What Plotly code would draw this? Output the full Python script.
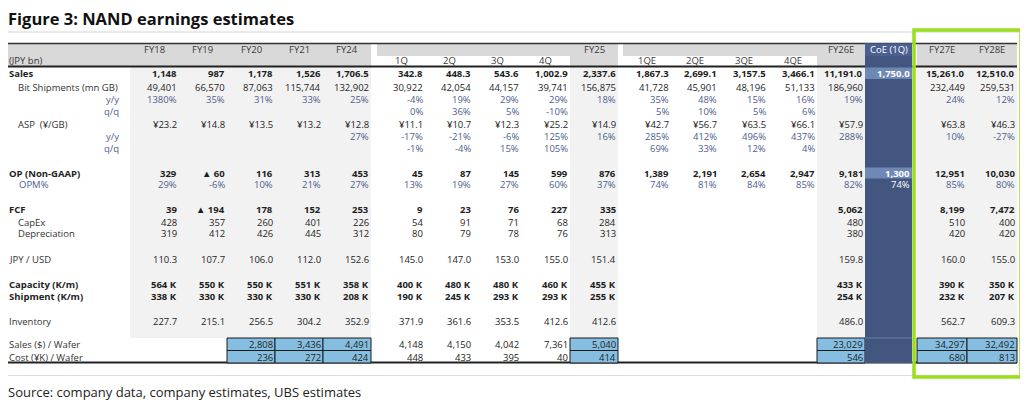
import plotly.graph_objects as go

TITLE = "Figure 3: NAND earnings estimates"
SOURCE = "Source: company data, company estimates, UBS estimates"
UNIT = "(JPY bn)"

# column headers (top header row / second header row)
HEAD_TOP = ["FY18", "FY19", "FY20", "FY21", "FY24",
            "", "", "", "", "FY25",
            "", "", "", "", "FY26E",
            "CoE (1Q)", "FY27E", "FY28E"]
HEAD_SUB = ["", "", "", "", "",
            "1Q", "2Q", "3Q", "4Q", "",
            "1QE", "2QE", "3QE", "4QE", "",
            "", "", ""]

ROW_LABELS = ["Sales", "Bit Shipments (mn GB)", "y/y", "q/q", "ASP  (¥/GB)", "y/y", "q/q",
              "OP (Non-GAAP)", "OPM%", "FCF", "CapEx", "Depreciation", "JPY / USD",
              "Capacity (K/m)", "Shipment (K/m)", "Inventory",
              "Sales ($) / Wafer", "Cost (¥K) / Wafer"]

SALES = ["1,148", "987", "1,178", "1,526", "1,706.5", "342.8", "448.3", "543.6", "1,002.9", "2,337.6",
         "1,867.3", "2,699.1", "3,157.5", "3,466.1", "11,191.0", "1,750.0", "15,261.0", "12,510.0"]
BIT_SHIPMENTS = ["49,401", "66,570", "87,063", "115,744", "132,902", "30,922", "42,054", "44,157", "39,741",
                 "156,875", "41,728", "45,901", "48,196", "51,133", "186,960", "", "232,449", "259,531"]
BIT_YY = ["1380%", "35%", "31%", "33%", "25%", "-4%", "19%", "29%", "29%", "18%",
          "35%", "48%", "15%", "16%", "19%", "", "24%", "12%"]
BIT_QQ = ["", "", "", "", "", "0%", "36%", "5%", "-10%", "",
          "5%", "10%", "5%", "6%", "", "", "", ""]
ASP = ["¥23.2", "¥14.8", "¥13.5", "¥13.2", "¥12.8", "¥11.1", "¥10.7", "¥12.3", "¥25.2", "¥14.9",
       "¥42.7", "¥56.7", "¥63.5", "¥66.1", "¥57.9", "", "¥63.8", "¥46.3"]
ASP_YY = ["", "", "", "", "27%", "-17%", "-21%", "-6%", "125%", "16%",
          "285%", "412%", "496%", "437%", "288%", "", "10%", "-27%"]
ASP_QQ = ["", "", "", "", "", "-1%", "-4%", "15%", "105%", "",
          "69%", "33%", "12%", "4%", "", "", "", ""]
OP = ["329", "▲ 60", "116", "313", "453", "45", "87", "145", "599", "876",
      "1,389", "2,191", "2,654", "2,947", "9,181", "1,300", "12,951", "10,030"]
OPM = ["29%", "-6%", "10%", "21%", "27%", "13%", "19%", "27%", "60%", "37%",
       "74%", "81%", "84%", "85%", "82%", "74%", "85%", "80%"]
FCF = ["39", "▲ 194", "178", "152", "253", "9", "23", "76", "227", "335",
       "", "", "", "", "5,062", "", "8,199", "7,472"]
CAPEX = ["428", "357", "260", "401", "226", "54", "91", "71", "68", "284",
         "", "", "", "", "480", "", "510", "400"]
DEPRECIATION = ["319", "412", "426", "445", "312", "80", "79", "78", "76", "313",
                "", "", "", "", "380", "", "420", "420"]
JPY_USD = ["110.3", "107.7", "106.0", "112.0", "152.6", "145.0", "147.0", "153.0", "155.0", "151.4",
           "", "", "", "", "159.8", "", "160.0", "155.0"]
CAPACITY = ["564 K", "550 K", "550 K", "551 K", "358 K", "400 K", "480 K", "480 K", "460 K", "455 K",
            "", "", "", "", "433 K", "", "390 K", "350 K"]
SHIPMENT = ["338 K", "330 K", "330 K", "330 K", "208 K", "190 K", "245 K", "293 K", "293 K", "255 K",
            "", "", "", "", "254 K", "", "232 K", "207 K"]
INVENTORY = ["227.7", "215.1", "256.5", "304.2", "352.9", "371.9", "361.6", "353.5", "412.6", "412.6",
             "", "", "", "", "486.0", "", "562.7", "609.3"]
SALES_PER_WAFER = ["", "", "2,808", "3,436", "4,491", "4,148", "4,150", "4,042", "7,361", "5,040",
                   "", "", "", "", "23,029", "", "34,297", "32,492"]
COST_PER_WAFER = ["", "", "236", "272", "424", "448", "433", "395", "40", "414",
                  "", "", "", "", "546", "", "680", "813"]

ROWS = [SALES, BIT_SHIPMENTS, BIT_YY, BIT_QQ, ASP, ASP_YY, ASP_QQ, OP, OPM, FCF, CAPEX,
        DEPRECIATION, JPY_USD, CAPACITY, SHIPMENT, INVENTORY, SALES_PER_WAFER, COST_PER_WAFER]

# ---- layout / style (page pixels) ----
W, H = 1028, 404
PAGE_MARGIN = 8  # browser default body margin, so axes map straight to page pixels
FONT = "Open Sans"
TXT = "#1e1e1e"
MUTED = "#4d5d8c"
HDR_GRAY = "#d9d9d9"
BODY_GRAY = "#f2f2f2"
CELL_BLUE = "#86bee1"
COE_BLUE = "#435680"
COE_HEAD = "#4a6090"
COE_HI = "#7088b5"
GREEN = "#9ade1e"

COL_L = [130, 178.5, 227, 275, 323, 377, 425, 473, 521, 570, 623, 671, 719, 768, 817, 865, 917, 967]
COL_R = [178.5, 227, 275, 323, 371, 425, 473, 521, 570, 618, 671, 719, 768, 817, 865, 912, 967, 1017]
ROW_Y = [73, 87, 99, 111, 124, 136, 148, 173, 184, 209, 222, 233, 259, 284, 296, 321, 344, 357]
BOLD_ROWS = {0, 7, 9, 13, 14}
MUTED_ROWS = {2, 3, 5, 6, 8}
INDENT_ROWS = {1, 4, 10, 11}
BLUE_COLS = [2, 3, 4, 9, 14, 16, 17]
COE = 15

fig = go.Figure()
shapes = []
ann = []


def rect(x0, y0, x1, y1, fill, line_color=None, lw=0):
    shapes.append(dict(type="rect", xref="x", yref="y", x0=x0, y0=y0, x1=x1, y1=y1,
                       fillcolor=fill, line=dict(color=line_color or fill, width=lw), layer="below"))


def hline(x0, x1, y, color, lw):
    shapes.append(dict(type="line", xref="x", yref="y", x0=x0, x1=x1, y0=y, y1=y,
                       line=dict(color=color, width=lw), layer="below"))


def text(x, y, s, anchor="right", size=9.5, color=TXT, bold=False):
    if bold:
        s = "<b>" + s + "</b>"
    ann.append(dict(x=x, y=y, xref="x", yref="y", text=s, showarrow=False, xanchor=anchor,
                    yanchor="middle", borderpad=0, borderwidth=0,
                    font=dict(family=FONT, size=size, color=color)))


# background fills
rect(8, 43.5, 371, 66, HDR_GRAY)
rect(377, 43.5, 618, 56, HDR_GRAY)
rect(570, 56, 618, 66, HDR_GRAY)
rect(623, 43.5, 865, 56, HDR_GRAY)
rect(817, 56, 865, 66, HDR_GRAY)
rect(917, 43.5, 1017, 66, HDR_GRAY)
rect(130, 66, 371, 338, BODY_GRAY)
rect(570, 66, 618, 338, BODY_GRAY)
rect(817, 66, 865, 338, BODY_GRAY)
rect(917, 66, 1017, 338, BODY_GRAY)

# separators and rules
hline(8, 1020, 32, "#d4d4d4", 1)
hline(8, 1020, 375.5, "#dcdcdc", 1.2)
hline(8, 1017, 43.5, "#333333", 1.5)
hline(8, 1017, 66.5, "#222222", 2)
hline(8, 1017, 362.5, "#222222", 1.8)

# blue wafer cells
for c in BLUE_COLS:
    for y0, y1 in [(338, 350.5), (350.5, 363)]:
        rect(COL_L[c], y0, COL_R[c], y1, CELL_BLUE, "#1a1a1a", 1)

# CoE column
rect(COL_L[COE], 43.5, COL_R[COE], 363, COE_BLUE)
rect(COL_L[COE], 43.5, COL_R[COE], 56, COE_HEAD)
rect(COL_L[COE], 67.5, COL_R[COE], 79, COE_HI)
rect(COL_L[COE], 167.5, COL_R[COE], 178.5, COE_HI)
hline(COL_L[COE], COL_R[COE], 338, "#6a7ea8", 1)

# highlight box
shapes.append(dict(type="rect", xref="x", yref="y", x0=914, y0=30, x1=1021, y1=377,
                   line=dict(color=GREEN, width=3.5), fillcolor="rgba(0,0,0,0)", layer="above"))

# title, unit, source
text(8, 18.5, TITLE, anchor="left", size=16.5, color="#111111", bold=True)
text(9, 60, UNIT, anchor="left", color="#333333")
text(8, 392, SOURCE, anchor="left", size=13, color="#222222")

# header labels
for i in range(len(HEAD_TOP)):
    mid = (COL_L[i] + COL_R[i]) / 2
    if HEAD_TOP[i]:
        text(mid, 49, HEAD_TOP[i], anchor="center",
             color="white" if i == COE else "#3a3a3a")
    if HEAD_SUB[i]:
        text(mid, 60, HEAD_SUB[i], anchor="center", color="#3a3a3a")

# row labels
for r, lab in enumerate(ROW_LABELS):
    if r in (2, 3, 5, 6):
        text(119, ROW_Y[r], lab, anchor="right", color=MUTED)
    elif r == 8:
        text(19, ROW_Y[r], lab, anchor="left", color=MUTED)
    elif r in INDENT_ROWS:
        text(18, ROW_Y[r], lab, anchor="left", color="#333333")
    else:
        text(9, ROW_Y[r], lab, anchor="left", color=TXT if r in BOLD_ROWS else "#333333",
             bold=r in BOLD_ROWS)

# values
for r, row in enumerate(ROWS):
    for c, val in enumerate(row):
        if not val:
            continue
        col = MUTED if r in MUTED_ROWS else TXT
        if c == COE:
            col = "white"
        text(COL_R[c] - 2, ROW_Y[r], val, anchor="right", color=col, bold=r in BOLD_ROWS)

fig.update_layout(
    width=W - PAGE_MARGIN, height=H - PAGE_MARGIN, margin=dict(l=0, r=0, t=0, b=0),
    paper_bgcolor="white", plot_bgcolor="white",
    xaxis=dict(range=[PAGE_MARGIN, W], visible=False, fixedrange=True),
    yaxis=dict(range=[H, PAGE_MARGIN], visible=False, fixedrange=True),
    shapes=shapes, annotations=ann, showlegend=False,
)
fig.write_html("out.html")
